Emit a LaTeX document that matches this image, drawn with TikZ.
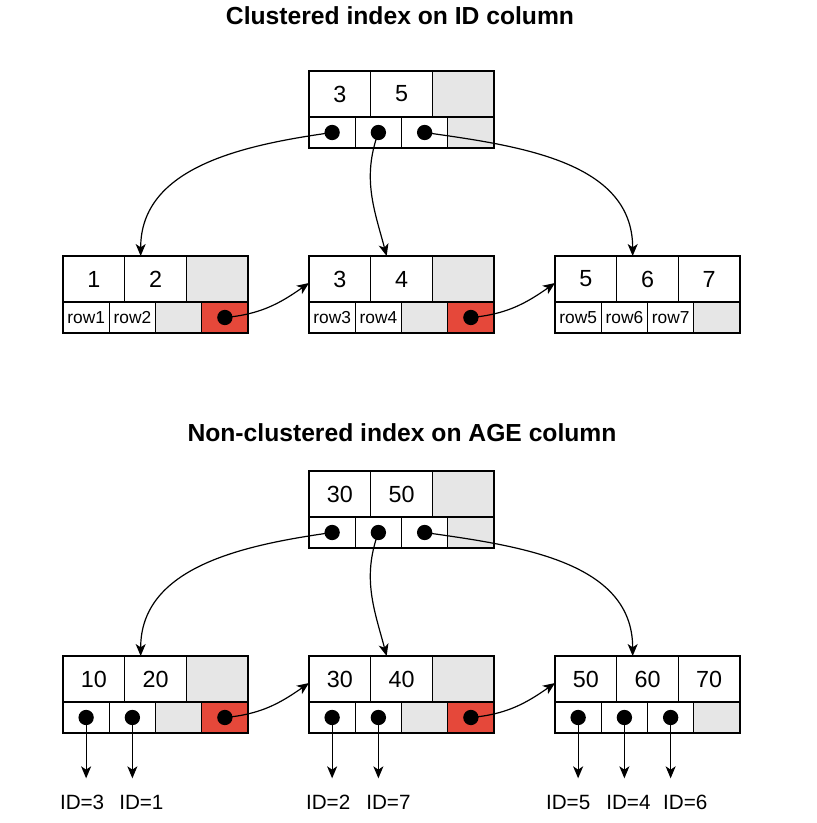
\documentclass[tikz,border=0pt]{standalone}
\usepackage{fontspec}
\setmainfont{Liberation Sans}
\usetikzlibrary{arrows.meta,positioning}

\definecolor{cellgray}{HTML}{E6E6E6}
\definecolor{nextred}{HTML}{E5483A}

% one B-tree page: name, x, y, key cells, pointer cells
\newcommand{\btpage}[5]{%
  \foreach \cnt/\sty [count=\i] in {#4}
    \node[\sty, anchor=north west] (#1-k\i) at ({#2+61.667*(\i-1)}, {#3}) {\cnt};
  \foreach \cnt/\sty [count=\i] in {#5}
    \node[\sty, anchor=north west] (#1-p\i) at ({#2+46.25*(\i-1)}, {#3+46}) {\cnt};
}

\begin{document}
\begin{tikzpicture}[x=0.75pt, y=-0.75pt,
    cell/.style={draw, line width=0.9pt, inner sep=0pt, outer sep=0pt},
    keycell/.style={cell, fill=white, minimum width=46.25pt, minimum height=34.5pt, font=\fontsize{17.5}{20}\selectfont},
    keyblank/.style={keycell, fill=cellgray},
    rowcell/.style={cell, fill=white, minimum width=34.69pt, minimum height=23.25pt, font=\fontsize{13}{15}\selectfont},
    ptrblank/.style={rowcell, fill=cellgray},
    dotmark/.style={circle, fill=black, draw=none, inner sep=0pt, minimum size=11.5pt},
    ptrcell/.style={rowcell, label={[dotmark]center:{}}},
    nextcell/.style={ptrcell, fill=nextred},
    link/.style={-{Stealth[length=9pt,width=7.5pt,inset=2.5pt]}, line width=0.9pt},
    ptrlink/.style={link, shorten >=12pt},
    heading/.style={font=\bfseries\fontsize{18.5}{22}\selectfont},
    idlabel/.style={inner sep=0pt, text height=11.2pt, text depth=0pt, font=\fontsize{15.5}{18}\selectfont}]
    \useasboundingbox (0,0) rectangle (816,823);

    % Clustered index
    \node[heading] (ctitle) at (400,16) {Clustered index on ID column};
    \btpage{croot}{309}{71}{3/keycell,5/keycell,/keyblank}{/ptrcell,/ptrcell,/ptrcell,/ptrblank}
    \btpage{cleaf1}{63}{256}{1/keycell,2/keycell,/keyblank}{row1/rowcell,row2/rowcell,/ptrblank,/nextcell}
    \btpage{cleaf2}{309}{256}{3/keycell,4/keycell,/keyblank}{row3/rowcell,row4/rowcell,/ptrblank,/nextcell}
    \btpage{cleaf3}{555}{256}{5/keycell,6/keycell,7/keycell}{row5/rowcell,row6/rowcell,row7/rowcell,/ptrblank}

    \draw[link] (croot-p1.center) to[out=188,in=90] ([xshift=12pt]cleaf1-k2.north west);
    \draw[link] (croot-p2.center) to[out=250,in=105] ([xshift=12pt]cleaf2-k2.north west);
    \draw[link] (croot-p3.center) to[out=-8,in=90] ([xshift=12pt]cleaf3-k2.north west);
    \draw[link] (cleaf1-p4.center) to[out=5,in=215] ([yshift=-3pt]cleaf2-k1.west);
    \draw[link] (cleaf2-p4.center) to[out=5,in=215] ([yshift=-3pt]cleaf3-k1.west);

    % Non-clustered index
    \node[heading] (ntitle) at (402,433) {Non-clustered index on AGE column};
    \btpage{nroot}{309}{471}{30/keycell,50/keycell,/keyblank}{/ptrcell,/ptrcell,/ptrcell,/ptrblank}
    \btpage{nleaf1}{63}{656}{10/keycell,20/keycell,/keyblank}{/ptrcell,/ptrcell,/ptrblank,/nextcell}
    \btpage{nleaf2}{309}{656}{30/keycell,40/keycell,/keyblank}{/ptrcell,/ptrcell,/ptrblank,/nextcell}
    \btpage{nleaf3}{555}{656}{50/keycell,60/keycell,70/keycell}{/ptrcell,/ptrcell,/ptrcell,/ptrblank}

    \draw[link] (nroot-p1.center) to[out=188,in=90] ([xshift=12pt]nleaf1-k2.north west);
    \draw[link] (nroot-p2.center) to[out=250,in=105] ([xshift=12pt]nleaf2-k2.north west);
    \draw[link] (nroot-p3.center) to[out=-8,in=90] ([xshift=12pt]nleaf3-k2.north west);
    \draw[link] (nleaf1-p4.center) to[out=5,in=215] ([yshift=-3pt]nleaf2-k1.west);
    \draw[link] (nleaf2-p4.center) to[out=5,in=215] ([yshift=-3pt]nleaf3-k1.west);

    % Row ids
    \node[idlabel, below=46pt of nleaf1-p1, xshift=-3pt] (id3) {ID=3};
    \node[idlabel, below=46pt of nleaf1-p2, xshift=6.75pt] (id1) {ID=1};
    \node[idlabel, below=46pt of nleaf2-p1, xshift=-3pt] (id2) {ID=2};
    \node[idlabel, below=46pt of nleaf2-p2, xshift=7.5pt] (id7) {ID=7};
    \node[idlabel, below=46pt of nleaf3-p1, xshift=-7.5pt] (id5) {ID=5};
    \node[idlabel, below=46pt of nleaf3-p2, xshift=3pt] (id4) {ID=4};
    \node[idlabel, below=46pt of nleaf3-p3, xshift=11pt] (id6) {ID=6};

    \draw[ptrlink] (nleaf1-p1.center) -- (nleaf1-p1.center |- id3.north);
    \draw[ptrlink] (nleaf1-p2.center) -- (nleaf1-p2.center |- id1.north);
    \draw[ptrlink] (nleaf2-p1.center) -- (nleaf2-p1.center |- id2.north);
    \draw[ptrlink] (nleaf2-p2.center) -- (nleaf2-p2.center |- id7.north);
    \draw[ptrlink] (nleaf3-p1.center) -- (nleaf3-p1.center |- id5.north);
    \draw[ptrlink] (nleaf3-p2.center) -- (nleaf3-p2.center |- id4.north);
    \draw[ptrlink] (nleaf3-p3.center) -- (nleaf3-p3.center |- id6.north);
\end{tikzpicture}
\end{document}
